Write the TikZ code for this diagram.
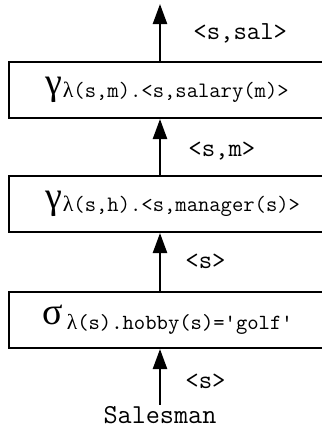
\documentclass[tikz,border=0pt]{standalone}
\usepackage{fontspec}
\newfontfamily\grk{Liberation Serif}
\usetikzlibrary{arrows.meta,positioning}

\begin{document}
\begin{tikzpicture}[x=0.5pt,y=-0.5pt,
  op/.style={draw,line width=1pt,anchor=west,text width=150pt,align=left,
    minimum height=28pt,inner ysep=0pt,inner xsep=18.5pt},
  flow/.style={-{Triangle[width=7pt,length=10pt]},line width=1.2pt},
  tag/.style={anchor=base west,inner sep=0pt,font=\ttfamily\fontsize{13}{13}\selectfont}]
  \useasboundingbox (0,0) rectangle (322,436);
  \clip (0,0) rectangle (322,436);
  \node[op] (sal) at (8,90)
    {{\grk\fontsize{19}{19}\selectfont γ}\raisebox{-1.5pt}{\ttfamily\fontsize{11}{12}\selectfont{\grk λ}(s,m).<s,salary(m)>}};
  \node[op] (mgr) at (8,204)
    {{\grk\fontsize{19}{19}\selectfont γ}\raisebox{-1.5pt}{\ttfamily\fontsize{11}{12}\selectfont{\grk λ}(s,h).<s,manager(s)>}};
  \node[op] (sel) at (8,320)
    {\hspace{-1.5pt}{\grk\fontsize{19}{19}\selectfont σ}\,\raisebox{-2.5pt}{\ttfamily\fontsize{10.8}{11}\selectfont{\grk λ}(s).hobby(s)='golf'}};
  \node[anchor=base,inner sep=0.5pt,font=\ttfamily\fontsize{13.7}{14}\selectfont] (src) at (160,423) {Salesman};
  \coordinate (out) at (160,4);
  \draw[flow] (src) -- (src |- sel.south);
  \draw[flow] (src |- sel.north) -- (src |- mgr.south);
  \draw[flow] (src |- mgr.north) -- (src |- sal.south);
  \draw[flow] (src |- sal.north) -- (out);
  \node[tag] at (193,39) {<s,sal>};
  \node[tag] at (188,156) {<s,m>};
  \node[tag] at (185,268) {<s>};
  \node[tag] at (185,388) {<s>};
\end{tikzpicture}
\end{document}
